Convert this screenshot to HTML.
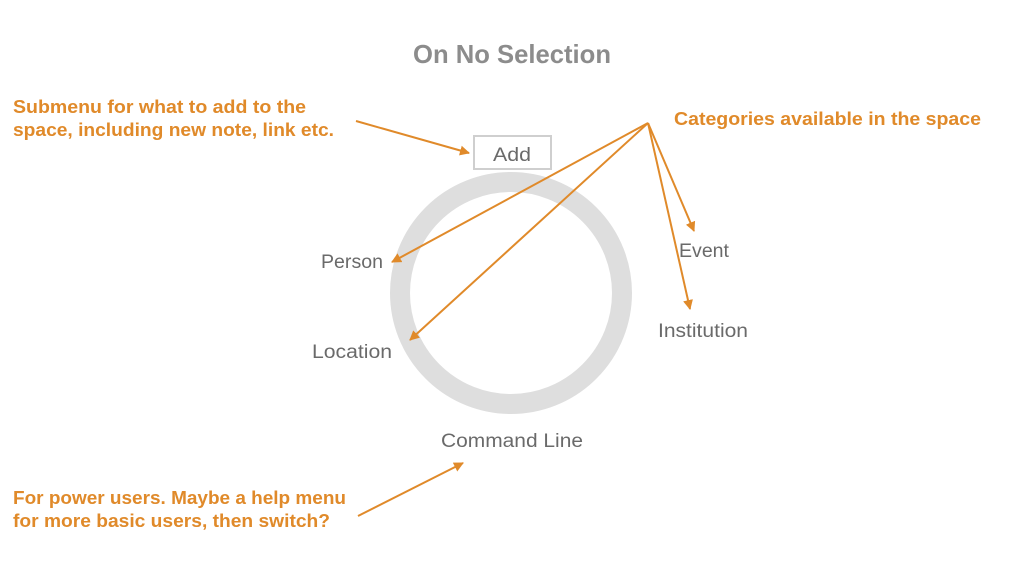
<!DOCTYPE html>
<html><head><meta charset="utf-8"><style>
html,body{margin:0;padding:0;background:#fff;}
svg{display:block;}
</style></head><body>
<svg width="1024" height="576" viewBox="0 0 1024 576" xmlns="http://www.w3.org/2000/svg">
<defs>
<marker id="ah" markerWidth="10" markerHeight="10" refX="9" refY="5" orient="auto" markerUnits="userSpaceOnUse">
<path d="M0,0 L10,5 L0,10 z" fill="#e08a2a"/>
</marker>
</defs>
<rect width="1024" height="576" fill="#fff"/>
<text x="413" y="63" textLength="198" lengthAdjust="spacingAndGlyphs" font-family="Liberation Sans, sans-serif" font-weight="bold" font-size="26" fill="#8c8c8c">On No Selection</text>
<circle cx="511" cy="293" r="111" fill="none" stroke="#dedede" stroke-width="20"/>
<rect x="474" y="136" width="77" height="33" fill="none" stroke="#cfcfcf" stroke-width="2"/>
<g font-family="Liberation Sans, sans-serif" font-size="19" fill="#6a6a6a" lengthAdjust="spacingAndGlyphs">
<text x="493" y="161" textLength="38" lengthAdjust="spacingAndGlyphs">Add</text>
<text x="321" y="268" textLength="62" lengthAdjust="spacingAndGlyphs">Person</text>
<text x="312" y="358" textLength="80" lengthAdjust="spacingAndGlyphs">Location</text>
<text x="679" y="257" textLength="50" lengthAdjust="spacingAndGlyphs">Event</text>
<text x="658" y="337" textLength="90" lengthAdjust="spacingAndGlyphs">Institution</text>
<text x="441" y="447" textLength="142" lengthAdjust="spacingAndGlyphs">Command Line</text>
</g>
<g font-family="Liberation Sans, sans-serif" font-size="18" font-weight="bold" fill="#e08a2a">
<text x="13" y="113" textLength="293" lengthAdjust="spacingAndGlyphs">Submenu for what to add to the</text>
<text x="13" y="136" textLength="321" lengthAdjust="spacingAndGlyphs">space, including new note, link etc.</text>
<text x="674" y="125" textLength="307" lengthAdjust="spacingAndGlyphs">Categories available in the space</text>
<text x="13" y="504" textLength="333" lengthAdjust="spacingAndGlyphs">For power users. Maybe a help menu</text>
<text x="13" y="527" textLength="317" lengthAdjust="spacingAndGlyphs">for more basic users, then switch?</text>
</g>
<g stroke="#e08a2a" stroke-width="2" fill="none" marker-end="url(#ah)">
<line x1="356" y1="121" x2="469" y2="153"/>
<line x1="648" y1="123" x2="392" y2="262"/>
<line x1="648" y1="123" x2="410" y2="340"/>
<line x1="648" y1="123" x2="694" y2="231"/>
<line x1="648" y1="123" x2="690" y2="309"/>
<line x1="358" y1="516" x2="463" y2="463"/>
</g>
</svg>
</body></html>
